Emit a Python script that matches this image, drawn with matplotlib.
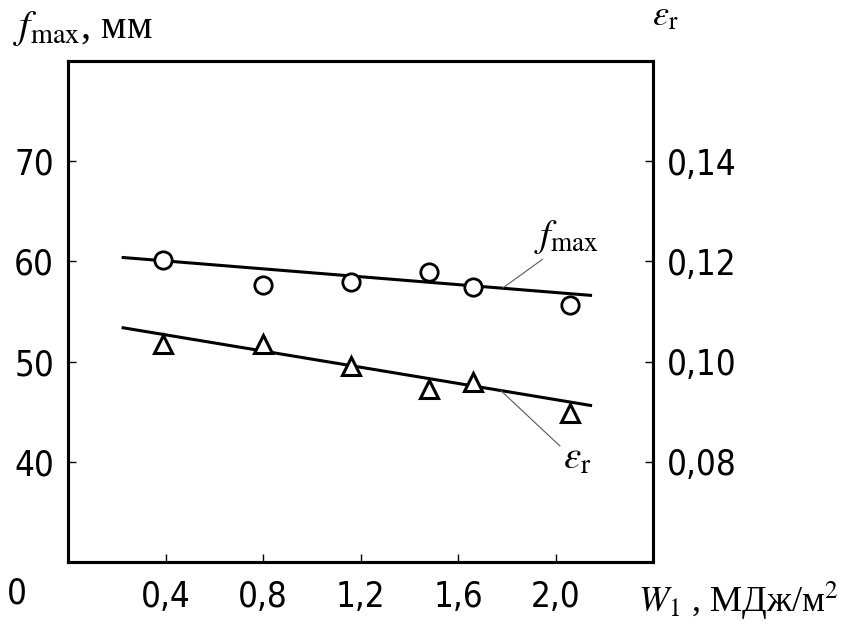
#!/usr/bin/env python3
import matplotlib
matplotlib.use('Agg')
from matplotlib import pyplot as plt

# measured points
w1 = [0.39, 0.80, 1.16, 1.48, 1.66, 2.06]
f_max = [60.1, 57.6, 57.9, 58.9, 57.4, 55.6]
eps_r = [0.1036, 0.1036, 0.0992, 0.0946, 0.0960, 0.0897]

# straight-line fits (end points)
fit_w1 = [0.22, 2.15]
f_fit = [60.4, 56.6]
eps_fit = [0.1068, 0.0912]

x_ticks = [0.4, 0.8, 1.2, 1.6, 2.0]
x_labels = ['0,4', '0,8', '1,2', '1,6', '2,0']
f_ticks = [40, 50, 60, 70]
f_labels = ['40', '50', '60', '70']
eps_ticks = [0.08, 0.10, 0.12, 0.14]
eps_labels = ['0,08', '0,10', '0,12', '0,14']

W, H = 845, 626
TICK_FONT = dict(family='DejaVu Sans', stretch='condensed', size=25)
SERIF = ['Liberation Serif', 'DejaVu Serif']
plt.rcParams['mathtext.fontset'] = 'stix'


def style_axis(ax):
    for sp in ax.spines.values():
        sp.set_linewidth(2.2)
    ax.tick_params(direction='in', length=6, width=1.0, pad=10)


def main():
    fig = plt.figure(figsize=(W / 100, H / 100), dpi=100)
    ax = fig.add_axes([68 / W, 1 - 562 / H, 585 / W, 501 / H])
    ax2 = ax.twinx()

    ax.set_xlim(0, 2.4)
    ax.set_ylim(30, 80)
    ax2.set_ylim(0.06, 0.16)

    kw = dict(color='black', lw=2.2, solid_capstyle='butt')
    ax.plot(fit_w1, f_fit, **kw)
    ax2.plot(fit_w1, eps_fit, **kw)
    ax.plot(w1, f_max, 'o', ms=12.5, mfc='white', mec='black', mew=2.0)
    ax2.plot(w1, eps_r, '^', ms=13, mfc='white', mec='black', mew=2.2)

    ax.set_xticks(x_ticks)
    ax.set_xticklabels(x_labels, **TICK_FONT)
    ax.set_yticks(f_ticks)
    ax.set_yticklabels(f_labels, **TICK_FONT)
    ax2.set_yticks(eps_ticks)
    ax2.set_yticklabels(eps_labels, **TICK_FONT)
    style_axis(ax)
    style_axis(ax2)
    ax.tick_params(axis='x', pad=13)

    # origin label
    ax.text(-0.17, 28.6, '0', ha='right', va='top', **TICK_FONT)

    # axis titles
    fig.text(13 / W, 1 - 38 / H, r'$f_{\mathrm{max}}$, мм',
             family=SERIF, size=29, ha='left', va='baseline')
    fig.text(652 / W, 1 - 25 / H, r'$\varepsilon_{\mathrm{r}}$',
             family=SERIF, size=26, ha='left', va='baseline')
    fig.text(638 / W, 1 - 612 / H, r'$W_{1}$ , МДж/м$^{2}$',
             family=SERIF, size=26, ha='left', va='baseline')

    # curve labels with leader lines
    lead = dict(arrowstyle='-', lw=0.8, color='0.35', shrinkA=0, shrinkB=0)
    ax.annotate(r'$f_{\mathrm{max}}$', xy=(1.784, 57.35), xytext=(1.91, 61.5),
                fontsize=28, family=SERIF, ha='left', va='baseline',
                arrowprops=dict(relpos=(0.2, 0.0), **lead))
    ax2.annotate(r'$\varepsilon_{\mathrm{r}}$', xy=(1.776, 0.0942),
                 xytext=(2.03, 0.0785), fontsize=28, family=SERIF,
                 ha='left', va='baseline',
                 arrowprops=dict(relpos=(0.0, 0.8), **lead))

    plt.savefig('out.png', dpi=100)


if __name__ == '__main__':
    main()
